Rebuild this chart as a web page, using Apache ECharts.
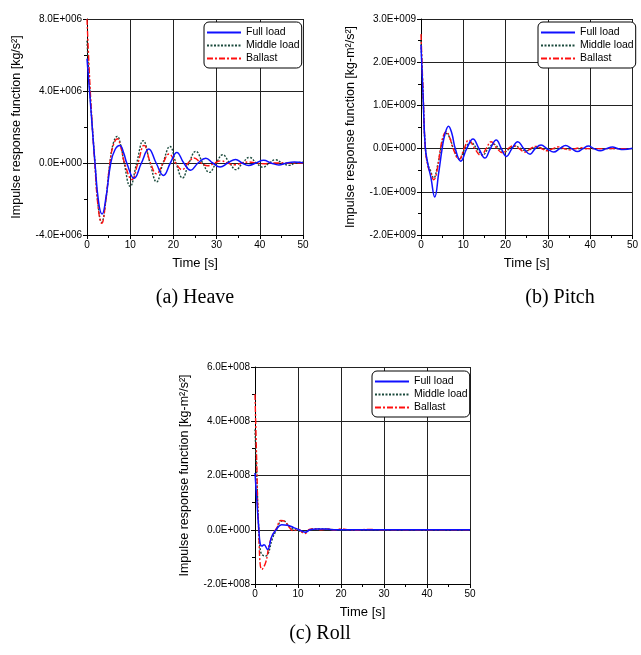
<!DOCTYPE html>
<html>
<head>
<meta charset="utf-8">
<script src="https://cdn.jsdelivr.net/npm/echarts@6/dist/echarts.min.js"></script>
<style>
html,body{margin:0;padding:0;background:#fff;}
#chart{width:641px;height:655px;}
</style>
</head>
<body>
<div id="chart"></div>
<script>
// ---------- data ----------
const seriesNames = ['Full load', 'Middle load', 'Ballast'];
const captions = ['(a) Heave', '(b) Pitch', '(c) Roll'];
const yAxisNames = [
  'Impulse response function [kg/s\u00B2]',
  'Impulse response function [kg-m\u00B2/s\u00B2]',
  'Impulse response function [kg-m\u00B2/s\u00B2]'
];
const xAxisName = 'Time [s]';
const timeRange = [0, 50, 10];
const heaveRange = [-4e6, 8e6, 4e6];
const pitchRange = [-2e9, 3e9, 1e9];
const rollRange = [-2e8, 6e8, 2e8];

// [time s, value]  heave values in 1E+006 kg/s^2
const heaveUnit = 1e6;
const heaveFull = [[0,5.8],[0.9,3.0],[1.85,0],[2.7,-2.2],[3.5,-2.83],[4.4,-1.9],[5.5,0],[6.5,0.75],[7.6,0.97],[8.5,0.55],[9.2,0],[10.9,-0.85],[12.6,0],[14.3,0.78],[16.0,0],[17.7,-0.69],[19.3,0],[20.8,0.59],[22.4,0],[24.0,-0.4],[25.7,0],[27.5,0.27],[29.1,0],[30.8,-0.22],[32.6,0],[34.4,0.2],[35.9,0],[37.4,-0.14],[39.1,0],[40.9,0.15],[42.6,0],[44.4,-0.11],[46.2,0],[48,0.05],[50,0.02]];
const heaveMiddle = [[0,6.8],[0.8,3.5],[1.85,0],[2.6,-2.4],[3.4,-3.3],[4.3,-2.2],[5.3,0],[6.1,1.1],[7.0,1.48],[7.8,1.0],[8.6,0],[10.0,-1.3],[11.5,0],[13.0,1.24],[14.6,0],[16.1,-1.05],[17.6,0],[19.2,0.92],[20.6,0],[22.1,-0.83],[23.6,0],[25.2,0.65],[26.8,0],[28.3,-0.52],[29.9,0],[31.4,0.46],[33.0,0],[34.5,-0.37],[36.0,0],[37.6,0.31],[39.2,0],[40.7,-0.24],[42.2,0],[43.6,0.18],[45.2,0],[46.7,-0.13],[48.3,0],[50,0.05]];
const heaveBallast = [[0,8.0],[0.8,3.8],[1.8,0],[2.6,-2.5],[3.4,-3.35],[4.3,-2.2],[5.3,0],[6.1,1.0],[7.0,1.35],[7.8,0.9],[8.7,0],[10.4,-0.92],[11.8,0],[13.2,0.98],[14.7,0],[16.1,-0.6],[17.6,0],[19.0,0.5],[20.5,0],[22.0,-0.37],[23.4,0],[24.8,0.28],[26.4,0],[28.0,-0.15],[29.6,0],[31.0,0.12],[32.5,0],[34.2,-0.1],[36,0],[37.5,0.06],[39,0],[41,-0.04],[43,0],[50,0]];

// pitch values in 1E+009 kg-m^2/s^2
const pitchUnit = 1e9;
const pitchFull = [[0,2.4],[0.5,1.2],[1.0,0.05],[1.6,-0.35],[2.3,-0.65],[3.25,-1.12],[4.2,-0.55],[5.0,0],[5.7,0.35],[6.5,0.52],[7.3,0.35],[8.1,0],[9.4,-0.29],[10.8,0],[12.3,0.22],[13.7,0],[15.1,-0.22],[16.4,0],[17.8,0.2],[19.0,0],[20.2,-0.18],[21.5,0],[22.9,0.16],[24.3,0],[25.8,-0.13],[27.0,0],[28.4,0.085],[29.8,0],[31.4,-0.08],[32.8,0],[34.2,0.07],[35.6,0],[37.0,-0.07],[38.3,0],[39.6,0.06],[40.9,0],[42.4,-0.05],[43.8,0],[45.3,0.035],[46.5,0],[47.8,-0.02],[50,0.01]];
const pitchMiddle = [[0,2.5],[0.5,1.2],[1.0,0.05],[1.6,-0.35],[2.2,-0.5],[3.0,-0.68],[3.9,-0.4],[4.7,0],[5.3,0.25],[6.0,0.35],[6.8,0.25],[7.7,0],[9.1,-0.24],[10.4,0],[11.8,0.14],[13.2,0],[14.6,-0.15],[15.9,0],[17.2,0.1],[18.5,0],[19.7,-0.08],[21,0],[22.3,0.06],[23.6,0],[25,-0.05],[26.3,0],[27.6,0.03],[29,0],[30.3,-0.02],[32,0],[50,0]];
const pitchBallast = [[0,2.65],[0.5,1.3],[1.0,0.05],[1.6,-0.4],[2.2,-0.55],[3.0,-0.72],[3.9,-0.45],[4.6,0],[5.3,0.3],[6.0,0.39],[6.8,0.25],[7.6,0],[9.0,-0.25],[10.2,0],[11.3,0.2],[12.7,0],[14.2,-0.16],[15.4,0],[16.6,0.16],[18.0,0],[19.3,-0.1],[20.6,0],[21.9,0.07],[23.2,0],[24.6,-0.08],[25.9,0],[27.2,0.05],[28.5,0],[29.9,-0.05],[31.2,0],[32.5,0.04],[33.8,0],[35.2,-0.03],[36.5,0],[37.8,0.02],[39,0],[50,0]];

// roll values in 1E+008 kg-m^2/s^2
const rollUnit = 1e8;
const rollFull = [[0,2.09],[0.5,0.9],[0.9,0],[1.2,-0.5],[1.6,-0.6],[2.1,-0.55],[2.9,-0.73],[3.9,-0.25],[4.9,0],[6.2,0.18],[7.5,0.17],[9,0.08],[10.2,0],[11.7,-0.09],[12.8,0],[14.5,0.03],[16.5,0.03],[18,0],[50,0]];
const rollMiddle = [[0,3.7],[0.5,1.6],[0.9,0],[1.3,-0.8],[2.3,-0.97],[3.0,-0.9],[4.0,-0.35],[5.0,0],[5.8,0.28],[6.6,0.33],[7.5,0.2],[8.5,0.05],[10,-0.03],[11.5,-0.1],[13,0.02],[15,0.03],[17,0.02],[19,0],[50,0]];
const rollBallast = [[0,5.0],[0.4,2.5],[0.85,0],[1.6,-1.47],[2.5,-1.2],[3.3,-0.55],[4.2,-0.15],[5.0,0.05],[6.0,0.34],[7.0,0.3],[8.0,0.08],[9.0,-0.04],[10,0.02],[11.5,-0.14],[12.8,0.02],[14,0.03],[15.5,0],[17,0.03],[18.5,-0.01],[20,0.03],[22,0],[24,-0.01],[26,0.01],[30,0],[50,0]];

// ---------- layout / style ----------
const FONT = 'Liberation Sans, Arial, sans-serif';
const grids = [
  {left: 87, top: 19, width: 216, height: 216},
  {left: 421, top: 19, width: 216, height: 216},
  {left: 255, top: 367, width: 215, height: 217}
];
const legendPos = [{left: 204, top: 22}, {left: 538, top: 22}, {left: 372, top: 371}];
const capPos = [[195, 298], [560, 298], [320, 634]];
const styles = {
  'Full load': {color: '#1010ff', width: 1.5, type: 'solid', z: 4},
  'Middle load': {color: '#1a4a3c', width: 1.4, type: [2, 1.5], z: 2},
  'Ballast': {color: '#ff1010', width: 1.4, type: [6, 2, 2, 2], z: 3}
};

function sci(v) {
  if (Math.abs(v) < 1e-9) return '0.0E+000';
  const e = Math.floor(Math.log10(Math.abs(v)) + 1e-9);
  const m = v / Math.pow(10, e);
  return m.toFixed(1) + 'E+' + String(e).padStart(3, '0');
}

const panels = [
  {range: heaveRange, unit: heaveUnit, data: [heaveFull, heaveMiddle, heaveBallast]},
  {range: pitchRange, unit: pitchUnit, data: [pitchFull, pitchMiddle, pitchBallast]},
  {range: rollRange, unit: rollUnit, data: [rollFull, rollMiddle, rollBallast]}
];

const option = {
  backgroundColor: '#fff',
  animation: false,
  grid: grids.map(g => Object.assign({containLabel: false}, g)),
  xAxis: [], yAxis: [], series: [], legend: [], graphic: []
};

panels.forEach((p, i) => {
  option.xAxis.push({
    type: 'value', gridIndex: i, min: timeRange[0], max: timeRange[1], interval: timeRange[2],
    name: xAxisName, nameLocation: 'middle', nameGap: 22,
    nameTextStyle: {fontFamily: FONT, fontSize: 13, color: '#000'},
    axisLine: {show: true, onZero: false, lineStyle: {color: '#000', width: 1}},
    axisTick: {show: true, inside: false, length: 4, lineStyle: {color: '#000'}},
    minorTick: {show: true, splitNumber: 2, length: 3, lineStyle: {color: '#000'}},
    axisLabel: {fontFamily: FONT, fontSize: 10, color: '#000', margin: 5},
    splitLine: {show: true, lineStyle: {color: '#222', width: 1}}
  });
  option.yAxis.push({
    type: 'value', gridIndex: i, min: p.range[0], max: p.range[1], interval: p.range[2],
    name: yAxisNames[i], nameLocation: 'middle', nameGap: 64,
    nameTextStyle: {fontFamily: FONT, fontSize: 12.5, color: '#000'},
    axisLine: {show: true, onZero: false, lineStyle: {color: '#000', width: 1}},
    axisTick: {show: true, inside: false, length: 4, lineStyle: {color: '#000'}},
    minorTick: {show: true, splitNumber: 2, length: 3, lineStyle: {color: '#000'}},
    axisLabel: {fontFamily: FONT, fontSize: 10, color: '#000', margin: 5, formatter: sci},
    splitLine: {show: true, lineStyle: {color: '#222', width: 1}}
  });
  const order = [1, 2, 0];
  order.forEach(k => {
    const name = seriesNames[k];
    const st = styles[name];
    option.series.push({
      type: 'line', name: name, xAxisIndex: i, yAxisIndex: i,
      data: p.data[k].map(d => [d[0], d[1] * p.unit]),
      smooth: 0.45, symbol: 'none', showSymbol: false, z: st.z,
      lineStyle: {color: st.color, width: st.width, type: st.type},
      itemStyle: {color: st.color}
    });
  });
  option.legend.push({
    data: seriesNames, orient: 'vertical', left: legendPos[i].left, top: legendPos[i].top,
    itemWidth: 34, itemHeight: 11, itemGap: 2,
    padding: [5, 2, 4, 2],
    borderColor: '#000', borderWidth: 1, borderRadius: 5, backgroundColor: '#fff',
    itemStyle: {opacity: 0, borderWidth: 0},
    textStyle: {fontFamily: FONT, fontSize: 10.5, color: '#000'},
    selectedMode: false
  });
  option.graphic.push({
    type: 'text', x: capPos[i][0], y: capPos[i][1],
    style: {text: captions[i], font: '20px "Liberation Serif", "DejaVu Serif", serif',
      fill: '#000', textAlign: 'center', textVerticalAlign: 'middle'}
  });
});

const chart = echarts.init(document.getElementById('chart'), null, {renderer: 'canvas'});
chart.setOption(option);
</script>
</body>
</html>
